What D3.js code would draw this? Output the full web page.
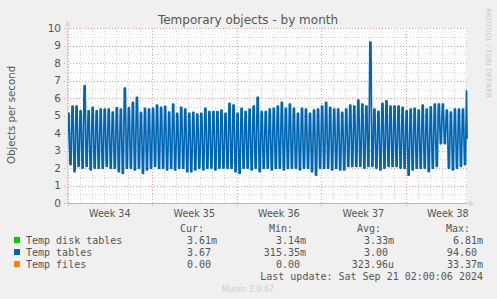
<!DOCTYPE html>
<html>
<head>
<meta charset="utf-8">
<script src="https://cdn.jsdelivr.net/npm/d3@7"></script>
<style>
  body { margin: 0; background: #f0f0f0; }
  svg text { font-family: "DejaVu Sans", sans-serif; fill: #555; }
  svg text.mono { font-family: "DejaVu Sans Mono", monospace; }
</style>
</head>
<body>
<svg id="chart" width="497" height="299"></svg>
<script>
const width = 497;
const height = 299;
const plot = { left: 67, top: 28, width: 400, height: 175 };

// time span of the month graph (UTC)
const startTime = Date.UTC(2024, 7, 18, 23, 0);
const endTime = Date.UTC(2024, 8, 21, 2, 0);
const hour = 3600 * 1000;

// Temp tables: busy level of each 8 hour cycle, and the quiet level after it
const peaks = [
  5.12, 5.54, 5.54, 5.26, 6.69, 5.26, 5.47, 5.26, 5.36, 5.36,
  5.36, 5.2, 5.43, 5.36, 6.57, 5.43, 5.75, 6.04, 5.18, 5.41,
  5.36, 5.41, 5.6, 5.47, 5.52, 5.2, 5.65, 5.12, 5.47, 5.36,
  5.12, 5.18, 5.08, 5.12, 5.41, 5.22, 5.22, 5.22, 5.31, 5.12,
  5.69, 5.6, 5.12, 5.41, 5.22, 5.36, 5.54, 6.04, 5.22, 5.22,
  5.36, 5.41, 5.54, 5.75, 5.41, 5.65, 5.41, 5.12, 5.41, 5.36,
  5.12, 5.31, 5.36, 5.54, 5.75, 5.47, 5.36, 5.36, 5.18, 5.36,
  5.6, 5.54, 5.88, 5.65, 5.54, 9.2, 5.36, 5.24, 5.69, 5.83,
  5.54, 5.54, 5.54, 5.47, 5.26, 5.36, 5.41, 5.31, 5.6, 5.36,
  5.5, 5.65, 5.65, 5.65, 5.31, 5.2, 5.36, 5.36, 5.36, 6.4
];
const troughs = [
  2.2, 1.8, 2.1, 2.0, 2.1, 1.9, 2.0, 2.0, 2.0, 2.1,
  2.0, 2.0, 1.8, 1.7, 2.0, 2.0, 1.9, 2.0, 1.7, 1.9,
  2.0, 2.1, 2.0, 2.0, 1.9, 2.0, 1.9, 2.0, 2.0, 1.8,
  1.8, 1.9, 2.0, 1.9, 2.0, 2.0, 1.9, 2.0, 2.0, 2.0,
  2.0, 1.8, 1.7, 2.0, 2.0, 1.9, 2.0, 1.8, 2.0, 2.0,
  1.9, 2.0, 2.0, 1.9, 2.0, 2.0, 2.0, 1.9, 2.0, 2.0,
  1.8, 1.6, 2.0, 2.0, 2.0, 1.9, 2.0, 1.9, 1.9, 2.1,
  2.1, 2.1, 2.1, 2.0, 2.1, 2.1, 2.0, 1.9, 2.0, 2.1,
  2.1, 2.1, 2.0, 2.0, 1.6, 1.9, 2.0, 2.0, 2.0, 1.8,
  2.0, 2.1, 3.4, 3.4, 2.0, 1.9, 2.0, 2.1, 2.2, 2.2
];
const firstValue = 2.3;
const lastValue = 3.67;
const diskTablesLevel = 0.00333;
const tempFilesLevel = 0.0;

const yTicks = [0, 1, 2, 3, 4, 5, 6, 7, 8, 9, 10];
const yMinor = [0.5, 1.5, 2.5, 3.5, 4.5, 5.5, 6.5, 7.5, 8.5, 9.5];
const weekLabels = ["Week 34", "Week 35", "Week 36", "Week 37", "Week 38"];

const seriesNames = ["Temp disk tables", "Temp tables", "Temp files"];
const seriesColors = ["#00cc00", "#0066b3", "#ff8000"];
const curValues = ["3.61m", "3.67", "0.00"];
const minValues = ["3.14m", "315.35m", "0.00"];
const avgValues = ["3.33m", "3.00", "323.96u"];
const maxValues = ["6.81m", "94.60", "33.37m"];

const svg = d3.select("#chart");

const xScale = d3.scaleUtc()
  .domain([startTime, endTime])
  .range([plot.left, plot.left + plot.width]);

const yScale = d3.scaleLinear()
  .domain([0, 10])
  .range([plot.top + plot.height, plot.top]);

// canvas
svg.append("rect")
  .attr("x", plot.left)
  .attr("y", plot.top)
  .attr("width", plot.width)
  .attr("height", plot.height)
  .attr("fill", "#ffffff");

// lines at zero sit under the axis, like rrdtool
svg.append("clipPath")
  .attr("id", "plot-clip")
  .append("rect")
  .attr("x", plot.left)
  .attr("y", 0)
  .attr("width", plot.width + 1)
  .attr("height", plot.top + plot.height - 1);

// minor grid
const days = d3.utcDay.range(new Date(startTime), new Date(endTime));
const mondays = d3.utcMonday.range(new Date(startTime), new Date(endTime));

svg.append("g")
  .selectAll("line")
  .data(days)
  .enter()
  .append("line")
  .attr("x1", (d) => Math.round(xScale(d)) + 0.5)
  .attr("x2", (d) => Math.round(xScale(d)) + 0.5)
  .attr("y1", plot.top)
  .attr("y2", plot.top + plot.height + 2)
  .attr("stroke", "#d6d6d6")
  .attr("stroke-dasharray", "1,2");

svg.append("g")
  .selectAll("line")
  .data(yMinor)
  .enter()
  .append("line")
  .attr("x1", plot.left - 2)
  .attr("x2", plot.left + plot.width)
  .attr("y1", (d) => Math.round(yScale(d)) + 0.5)
  .attr("y2", (d) => Math.round(yScale(d)) + 0.5)
  .attr("stroke", "#d6d6d6")
  .attr("stroke-dasharray", "1,2");

// major grid
svg.append("g")
  .selectAll("line")
  .data(mondays)
  .enter()
  .append("line")
  .attr("x1", (d) => Math.round(xScale(d)) + 0.5)
  .attr("x2", (d) => Math.round(xScale(d)) + 0.5)
  .attr("y1", plot.top)
  .attr("y2", plot.top + plot.height + 3)
  .attr("stroke", "#e4a0a0")
  .attr("stroke-dasharray", "1,2");

svg.append("g")
  .selectAll("line")
  .data(yTicks)
  .enter()
  .append("line")
  .attr("x1", plot.left - 3)
  .attr("x2", plot.left + plot.width)
  .attr("y1", (d) => Math.round(yScale(d)) + 0.5)
  .attr("y2", (d) => Math.round(yScale(d)) + 0.5)
  .attr("stroke", "#e4a0a0")
  .attr("stroke-dasharray", "1,2");

// build the Temp tables samples (2 hour steps)
const tableSamples = [];
peaks.forEach((p, k) => {
  const t0 = startTime + k * 8 * hour;
  tableSamples.push([t0, k === 0 ? firstValue : troughs[k - 1]]);
  tableSamples.push([t0 + 2 * hour, p]);
  tableSamples.push([t0 + 4 * hour, p]);
  tableSamples.push([t0 + 6 * hour, troughs[k]]);
});
const tableData = tableSamples.filter((d) => d[0] < endTime);
tableData.push([endTime, lastValue]);

const line = d3.line()
  .x((d) => xScale(d[0]))
  .y((d) => yScale(d[1]));

const series = svg.append("g").attr("clip-path", "url(#plot-clip)");

series.append("path")
  .datum([[startTime, diskTablesLevel], [endTime, diskTablesLevel]])
  .attr("d", line)
  .attr("fill", "none")
  .attr("stroke", seriesColors[0])
  .attr("stroke-width", 1);

series.append("path")
  .datum(tableData)
  .attr("d", line)
  .attr("fill", "none")
  .attr("stroke", seriesColors[1])
  .attr("stroke-width", 1.75)
  .attr("stroke-linejoin", "round");

series.append("path")
  .datum([[startTime, tempFilesLevel], [endTime, tempFilesLevel]])
  .attr("d", line)
  .attr("fill", "none")
  .attr("stroke", seriesColors[2])
  .attr("stroke-width", 1);

// axes
const axisY = yScale(0) + 0.5;
svg.append("line")
  .attr("x1", plot.left + 0.5)
  .attr("x2", plot.left + 0.5)
  .attr("y1", axisY)
  .attr("y2", plot.top - 4)
  .attr("stroke", "#cfd6f8");
svg.append("path")
  .attr("d", `M${plot.left - 2},${plot.top - 2} L${plot.left + 3},${plot.top - 2} L${plot.left + 0.5},${plot.top - 8} Z`)
  .attr("fill", "#cfd6f8");

svg.append("line")
  .attr("x1", plot.left + plot.width)
  .attr("x2", plot.left + plot.width + 3)
  .attr("y1", axisY)
  .attr("y2", axisY)
  .attr("stroke", "#cfd6f8");
svg.append("path")
  .attr("d", `M${plot.left + plot.width + 2},${axisY - 3} L${plot.left + plot.width + 2},${axisY + 3} L${plot.left + plot.width + 8},${axisY} Z`)
  .attr("fill", "#cfd6f8");

svg.append("line")
  .attr("x1", plot.left)
  .attr("x2", plot.left + plot.width)
  .attr("y1", axisY)
  .attr("y2", axisY)
  .attr("stroke", "#e6a49c");

// y tick labels
svg.append("g")
  .selectAll("text")
  .data(yTicks)
  .enter()
  .append("text")
  .attr("x", plot.left - 6)
  .attr("y", (d) => yScale(d) + 3.8)
  .attr("text-anchor", "end")
  .attr("font-size", "10.5px")
  .text((d) => d);

// week labels, centred in each week
svg.append("g")
  .selectAll("text")
  .data(mondays)
  .enter()
  .append("text")
  .attr("x", (d) => xScale(+d + 3.5 * 24 * hour))
  .attr("y", 216.5)
  .attr("text-anchor", "middle")
  .attr("font-size", "9.6px")
  .text((d, i) => weekLabels[i]);

// title and axis label
svg.append("text")
  .attr("x", 248)
  .attr("y", 23.5)
  .attr("text-anchor", "middle")
  .attr("font-size", "12px")
  .text("Temporary objects - by month");

svg.append("text")
  .attr("transform", "translate(14.5,115) rotate(-90)")
  .attr("text-anchor", "middle")
  .attr("font-size", "10.2px")
  .text("Objects per second");

svg.append("text")
  .attr("transform", "translate(485.5,53) rotate(90)")
  .attr("text-anchor", "middle")
  .attr("font-size", "7px")
  .style("fill", "#c8c8c8")
  .text("RRDTOOL / TOBI OETIKER");

// legend
const charW = 6.02;
const headers = [["Cur:", 204], ["Min:", 293], ["Avg:", 381], ["Max:", 470]];
svg.append("g")
  .selectAll("text")
  .data(headers)
  .enter()
  .append("text")
  .attr("class", "mono")
  .attr("x", (d) => d[1])
  .attr("y", 231.5)
  .attr("text-anchor", "end")
  .attr("font-size", "10px")
  .text((d) => d[0]);

const columns = [
  { values: curValues, right: 217 },
  { values: minValues, right: 306 },
  { values: avgValues, right: 394 },
  { values: maxValues, right: 483 }
];

seriesNames.forEach((name, i) => {
  const base = 243.5 + i * 12;
  svg.append("rect")
    .attr("x", 14)
    .attr("y", base - 6.5)
    .attr("width", 6)
    .attr("height", 6)
    .attr("fill", seriesColors[i]);
  svg.append("text")
    .attr("class", "mono")
    .attr("x", 26)
    .attr("y", base)
    .attr("font-size", "10px")
    .text(name);
  columns.forEach((c) => {
    const v = c.values[i];
    const hasUnit = /[a-z]$/.test(v);
    svg.append("text")
      .attr("class", "mono")
      .attr("x", hasUnit ? c.right : c.right - charW)
      .attr("y", base)
      .attr("text-anchor", "end")
      .attr("font-size", "10px")
      .text(v);
  });
});

svg.append("text")
  .attr("class", "mono")
  .attr("x", 483)
  .attr("y", 279.5)
  .attr("text-anchor", "end")
  .attr("font-size", "10px")
  .text("Last update: Sat Sep 21 02:00:06 2024");

svg.append("text")
  .attr("x", 248)
  .attr("y", 291.5)
  .attr("text-anchor", "middle")
  .attr("font-size", "8px")
  .style("fill", "#cccccc")
  .text("Munin 2.0.67");
</script>
</body>
</html>
